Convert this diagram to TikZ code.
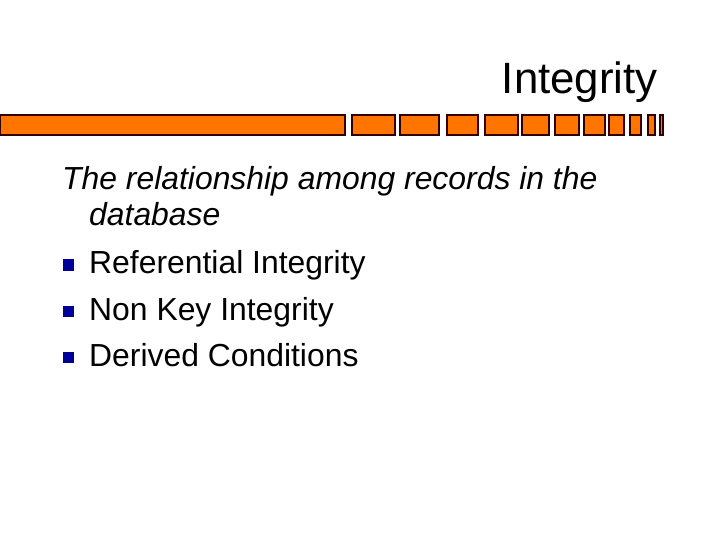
\documentclass[tikz,border=0pt]{standalone}
\usepackage{fontspec}
\setmainfont{Liberation Sans}
\begin{document}
\begin{tikzpicture}[x=1bp,y=-1bp,
  seg/.style={draw=black!80!red,line width=2bp,fill=orange!80!red!90!yellow},
  txt/.style={anchor=base west,inner sep=0,font=\fontsize{32}{38}\selectfont},
  bul/.style={fill=blue!60!black,minimum size=11bp,inner sep=0}]
\useasboundingbox (0,0) rectangle (720,540);
\node[anchor=base east,inner sep=0,font=\fontsize{44}{52}\selectfont] (title) at (658,94) {Integrity};
\foreach \a/\b in {0/345,352/395,400/439,447/478,485/518,522/549,555/579,584/605,609/624,630/641,648/655,660/663}
  \draw[seg] (\a,115) rectangle (\b,135);
\node[txt,font=\fontsize{32}{38}\selectfont\itshape] (l1) at (62,190) {The relationship among records in the};
\node[txt,font=\fontsize{32}{38}\selectfont\itshape] (l2) at (89,226) {database};
\node[txt] (l3) at (89,274) {Referential Integrity};
\node[txt] (l4) at (89,320) {Non Key Integrity};
\node[txt] (l5) at (89,366) {Derived Conditions};
\node[bul] (b1) at (68,265) {};
\node[bul] (b2) at (68,311) {};
\node[bul] (b3) at (68,357) {};
\end{tikzpicture}
\end{document}
